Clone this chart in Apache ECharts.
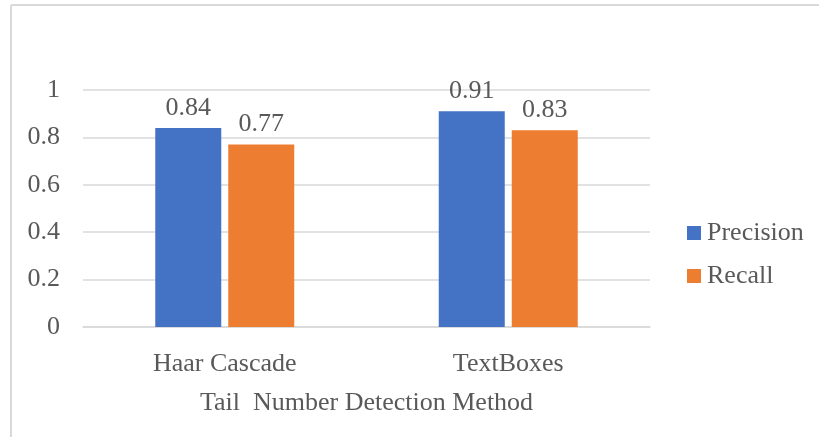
<!DOCTYPE html>
<html>
<head>
<meta charset="utf-8">
<script src="https://cdn.jsdelivr.net/npm/echarts@6/dist/echarts.min.js"></script>
<style>
html,body{margin:0;padding:0;background:#fff;}
#chart{width:819px;height:437px;}
</style>
</head>
<body>
<div id="chart"></div>
<script>
const categories = ['Haar Cascade', 'TextBoxes'];
const precision = [0.84, 0.91];
const recall = [0.77, 0.83];
const seriesNames = ['Precision', 'Recall'];
const xAxisTitle = 'Tail  Number Detection Method';

const FONT = '"Liberation Serif", "Times New Roman", serif';
const TXT = '#595959';
const FS = 26;

const chart = echarts.init(document.getElementById('chart'), null, {renderer: 'canvas'});
chart.setOption({
  animation: false,
  backgroundColor: '#ffffff',
  graphic: [
    {type: 'line', shape: {x1: 11, y1: 5, x2: 819, y2: 5}, style: {stroke: '#d9d9d9', lineWidth: 2}},
    {type: 'line', shape: {x1: 11, y1: 5, x2: 11, y2: 437}, style: {stroke: '#d9d9d9', lineWidth: 2}}
  ],
  grid: {left: 83, right: 169, top: 90, bottom: 110, containLabel: false},
  legend: {
    orient: 'vertical',
    left: 682,
    top: 215,
    itemWidth: 14,
    itemHeight: 14,
    itemGap: 17,
    icon: 'rect',
    textStyle: {fontFamily: FONT, fontSize: FS, color: TXT, lineHeight: 26, padding: [0, 0, 0, 1]},
    data: seriesNames
  },
  xAxis: {
    type: 'category',
    data: categories,
    name: xAxisTitle,
    nameLocation: 'middle',
    nameGap: 63,
    nameTextStyle: {fontFamily: FONT, fontSize: FS, color: TXT},
    axisLine: {show: true, lineStyle: {color: '#d9d9d9', width: 1.5}},
    axisTick: {show: false},
    axisLabel: {fontFamily: FONT, fontSize: FS, color: TXT, margin: 24}
  },
  yAxis: {
    type: 'value',
    min: 0,
    max: 1,
    interval: 0.2,
    axisLine: {show: false},
    axisTick: {show: false},
    splitLine: {lineStyle: {color: '#d9d9d9', width: 1.5}},
    axisLabel: {fontFamily: FONT, fontSize: FS, color: TXT, margin: 23,
      formatter: v => String(Math.round(v * 10) / 10)}
  },
  series: [
    {
      name: seriesNames[0], type: 'bar', data: precision,
      barWidth: 66, barGap: '10.6%',
      itemStyle: {color: '#4472C4'},
      label: {show: true, position: 'top', distance: 7, fontFamily: FONT, fontSize: FS, color: TXT}
    },
    {
      name: seriesNames[1], type: 'bar', data: recall,
      barWidth: 66, barGap: '10.6%',
      itemStyle: {color: '#ED7D31'},
      label: {show: true, position: 'top', distance: 7, fontFamily: FONT, fontSize: FS, color: TXT}
    }
  ]
});
</script>
</body>
</html>
